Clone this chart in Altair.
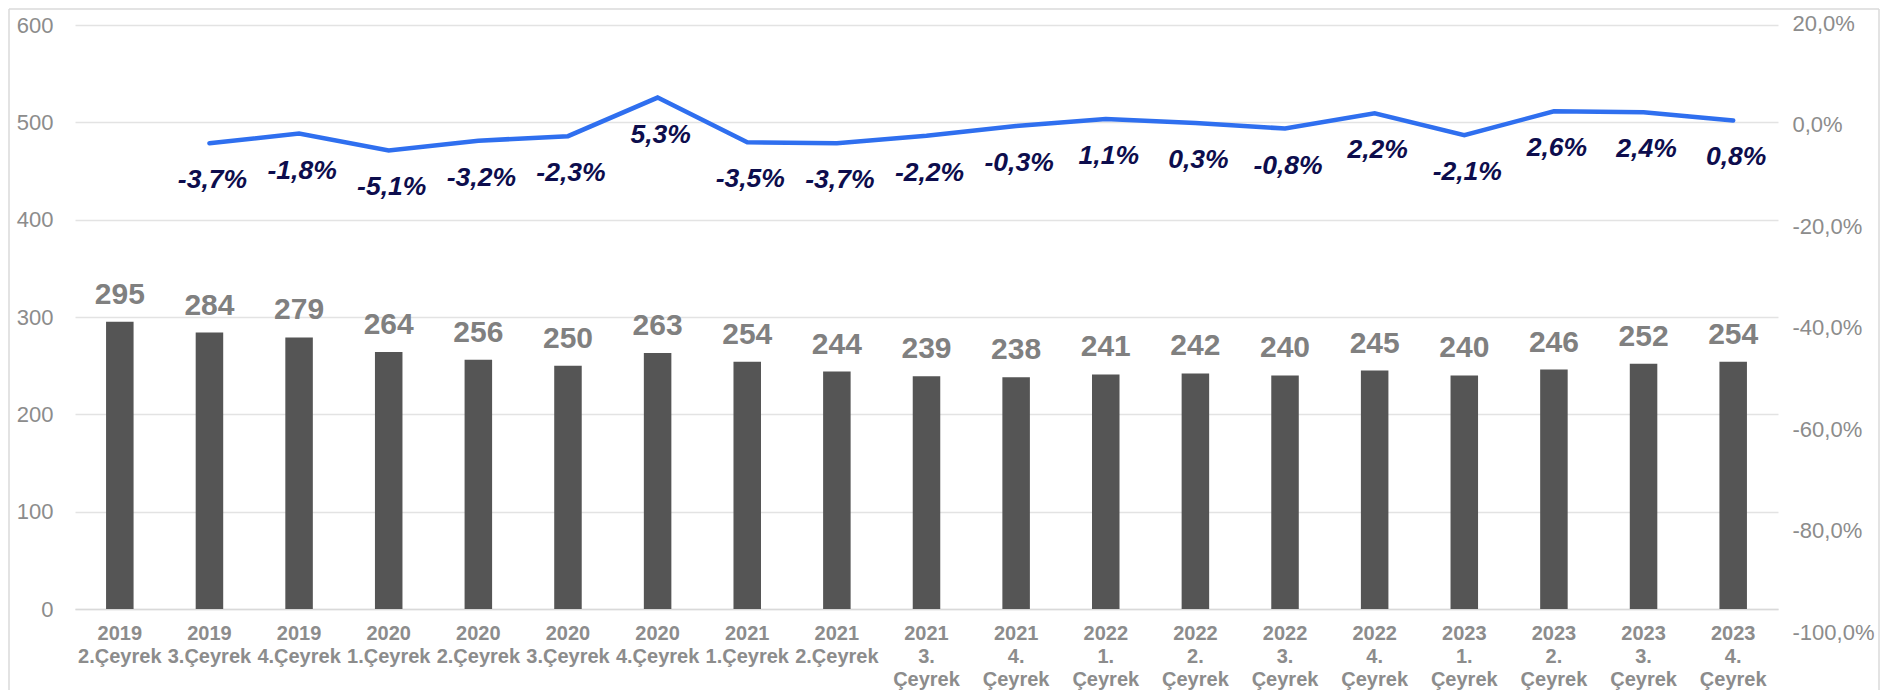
import altair as alt
import pandas as pd

# ---- data ----
categories = [
    "2019|2.Çeyrek", "2019|3.Çeyrek", "2019|4.Çeyrek",
    "2020|1.Çeyrek", "2020|2.Çeyrek", "2020|3.Çeyrek", "2020|4.Çeyrek",
    "2021|1.Çeyrek", "2021|2.Çeyrek", "2021|3.|Çeyrek", "2021|4.|Çeyrek",
    "2022|1.|Çeyrek", "2022|2.|Çeyrek", "2022|3.|Çeyrek", "2022|4.|Çeyrek",
    "2023|1.|Çeyrek", "2023|2.|Çeyrek", "2023|3.|Çeyrek", "2023|4.|Çeyrek",
]
values = [295, 284, 279, 264, 256, 250, 263, 254, 244, 239, 238,
          241, 242, 240, 245, 240, 246, 252, 254]
changes = [None, -3.7, -1.8, -5.1, -3.2, -2.3, 5.3, -3.5, -3.7, -2.2,
           -0.3, 1.1, 0.3, -0.8, 2.2, -2.1, 2.6, 2.4, 0.8]
left_ticks = [0, 100, 200, 300, 400, 500, 600]
right_ticks = [20, 0, -20, -40, -60, -80, -100]

df = pd.DataFrame({"cat": categories, "value": values, "change": changes})
df["change_label"] = [
    ("" if c is None else f"{c:.1f}".replace(".", ",") + "%") for c in changes
]

FONT = "Liberation Sans"
AXIS_GRAY = "#8C8C8C"

x_enc = alt.X(
    "cat:N",
    sort=categories,
    scale=alt.Scale(paddingInner=0.693, paddingOuter=0.3465),
    axis=alt.Axis(
        title=None,
        labelExpr="split(datum.label, '|')",
        labelAngle=0,
        labelFontSize=20,
        labelFontWeight="bold",
        labelColor=AXIS_GRAY,
        labelLineHeight=23,
        labelPadding=14.5,
        labelOverlap=False,
        labelLimit=300,
        ticks=False,
        domain=True,
        domainColor="#D9D9D9",
        domainWidth=1.3,
        grid=False,
    ),
)

y_left = alt.Y(
    "value:Q",
    scale=alt.Scale(domain=[0, 600], nice=False),
    axis=alt.Axis(
        title=None,
        values=left_ticks,
        grid=True,
        gridColor="#E3E3E3",
        gridWidth=1.3,
        ticks=False,
        tickSize=0,
        domain=False,
        labelFontSize=22,
        labelColor=AXIS_GRAY,
        labelPadding=22,
    ),
)

y_right = alt.Y(
    "change:Q",
    scale=alt.Scale(domain=[-100, 20], nice=False, range=[607, -2]),
    axis=alt.Axis(
        title=None,
        orient="right",
        values=right_ticks,
        grid=False,
        ticks=False,
        tickSize=0,
        domain=False,
        labelFontSize=22,
        labelColor=AXIS_GRAY,
        labelPadding=14,
        labelExpr="(datum.value < 0 ? '-' : '') + replace(format(abs(datum.value), '.1f'), '.', ',') + '%'",
    ),
)

base = alt.Chart(df)

bars = base.mark_bar(color="#555555").encode(x=x_enc, y=y_left)
bar_text = base.mark_text(
    font=FONT, fontSize=30, fontWeight="bold", color="#808080",
    baseline="alphabetic", dy=-18,
).encode(x=x_enc, y=y_left, text="value:Q")
left_layer = alt.layer(bars, bar_text)

line_base = base.transform_filter("isValid(datum.change)")
line = line_base.mark_line(
    color="#2F6FEF", strokeWidth=4.5, strokeCap="round"
).encode(x=x_enc, y=y_right)
line_text = line_base.mark_text(
    font=FONT, fontSize=26.5, fontWeight="bold", fontStyle="italic",
    color="#0D0D4D", baseline="middle", dy=37, dx=3,
).encode(x=x_enc, y=y_right, text="change_label:N")
right_layer = alt.layer(line, line_text)

# decorative outer frame (left, top and right edges of the picture)
frame_src = alt.Chart(pd.DataFrame({"f": [0]}))
frame_style = dict(color="#DADADA", strokeWidth=1.5)
frame_left = frame_src.mark_rule(**frame_style).encode(
    x=alt.value(-66), y=alt.value(-16), y2=alt.value(670)
)
frame_top = frame_src.mark_rule(**frame_style).encode(
    x=alt.value(-66), x2=alt.value(1804), y=alt.value(-16)
)
frame_right = frame_src.mark_rule(**frame_style).encode(
    x=alt.value(1804), y=alt.value(-16), y2=alt.value(670)
)

chart = (
    alt.layer(frame_left, frame_top, frame_right, left_layer, right_layer)
    .resolve_scale(y="independent")
    .properties(
        width=1703,
        height=584,
        autosize=alt.AutoSizeParams(type="none"),
        padding={"left": 67, "top": 17, "right": 103, "bottom": 81},
    )
    .configure(font=FONT)
    .configure_view(strokeOpacity=0, strokeWidth=0)
    .configure_axisY(domain=False, domainOpacity=0)
)

chart.save("out.html", embed_options={"renderer": "svg", "actions": False})
